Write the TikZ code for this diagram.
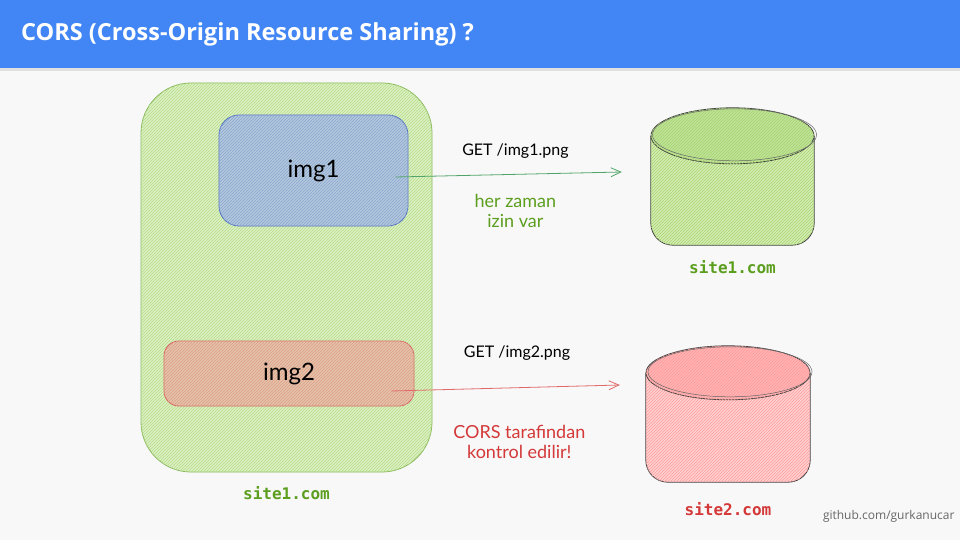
\documentclass[tikz,border=0pt]{standalone}
\usepackage{fontspec}
\setmainfont{Open Sans}
\setmonofont{DejaVu Sans Mono}
\newfontfamily\handfont{Lato}
\usetikzlibrary{positioning,arrows.meta,patterns}

\definecolor{bgcol}{HTML}{F8F8F8}
\definecolor{headcol}{HTML}{4286F5}
\definecolor{appfill}{HTML}{DCF0C4}
\definecolor{appline}{HTML}{B6DC88}
\definecolor{appdraw}{HTML}{86B85A}
\definecolor{img1fill}{HTML}{B4C8DC}
\definecolor{img1line}{HTML}{8AA6D0}
\definecolor{img1draw}{HTML}{5272C4}
\definecolor{img2fill}{HTML}{E4C4A8}
\definecolor{img2line}{HTML}{E09C8C}
\definecolor{img2draw}{HTML}{D86464}
\definecolor{okgreen}{HTML}{5C9E1E}
\definecolor{arrgreen}{HTML}{52A56A}
\definecolor{errred}{HTML}{D43838}
\definecolor{arrred}{HTML}{E06A6A}
\definecolor{db1fill}{HTML}{D4EDB4}
\definecolor{db1top}{HTML}{BFE298}
\definecolor{db1line}{HTML}{A6D46E}
\definecolor{db2fill}{HTML}{FFD2D2}
\definecolor{db2top}{HTML}{FFB4B4}
\definecolor{db2line}{HTML}{FF9A9A}

\begin{document}
\begin{tikzpicture}[x=1pt,y=-1pt,
        hatch/.style={postaction={pattern=north east lines,pattern color=#1}},
        imgbox/.style={draw,line width=0.8pt,inner sep=0pt,
            font=\handfont\fontsize{24}{26}\selectfont},
        req/.style={font=\handfont\fontsize{16}{18}\selectfont},
        note/.style={font=\handfont\fontsize{18}{20}\selectfont,align=center},
        host/.style={font=\ttfamily\bfseries\fontsize{16}{18}\selectfont},
        dbline/.style={draw=black!75,line width=0.8pt},
        arr/.style={line width=0.8pt,-{Straight Barb[length=10pt,width=9pt]}}]
\useasboundingbox (0,0) rectangle (960,540);
\fill[bgcol] (0,0) rectangle (960,540);
\fill[black!12] (0,68) rectangle (960,71);
\fill[headcol] (0,0) rectangle (960,68);
\node[anchor=base west,text=white,inner sep=0pt,
    font=\bfseries\fontsize{23.5}{26}\selectfont] (title) at (21,41)
    {CORS (Cross-Origin Resource Sharing) ?};

% page on site1
\node[draw=appdraw,line width=0.8pt,fill=appfill,hatch=appline,rounded corners=50pt,
    minimum width=291pt,minimum height=389pt] (site) at (286.5,277.5) {};
\node[imgbox,draw=img1draw,fill=img1fill,hatch=img1line,rounded corners=20pt,
    minimum width=189pt,minimum height=111pt] (img1) at (313.5,170.5) {img1};
\node[imgbox,draw=img2draw,fill=img2fill,hatch=img2line,rounded corners=15pt,
    minimum width=250pt,minimum height=65pt] (img2) at (289,373.5) {img2};
\node[host,text=okgreen,below=11pt of site] (sitelbl) {site1.com};

% servers
\node[minimum width=163pt,minimum height=137pt,inner sep=0pt] (db1) at (732.5,176.5) {};
\draw[dbline,fill=db1fill,hatch=db1line,rounded corners=22pt]
    ([yshift=-28pt]db1.north west) -- (db1.south west) -- (db1.south east)
    -- ([yshift=-28pt]db1.north east);
\draw[dbline,fill=db1top,hatch=db1line] ([yshift=-28pt]db1.north)
    ellipse [x radius=81.5pt,y radius=28pt];
\draw[black!60,line width=0.5pt] ([shift={(2pt,-27pt)}]db1.north)
    ellipse [x radius=82pt,y radius=26pt];
\node[host,text=okgreen,below=12pt of db1] (db1lbl) {site1.com};

\node[minimum width=164pt,minimum height=136pt,inner sep=0pt] (db2) at (728,414) {};
\draw[dbline,fill=db2fill,hatch=db2line,rounded corners=22pt]
    ([yshift=-27pt]db2.north west) -- (db2.south west) -- (db2.south east)
    -- ([yshift=-27pt]db2.north east);
\draw[dbline,fill=db2top,hatch=db2line] ([yshift=-27pt]db2.north)
    ellipse [x radius=82pt,y radius=27pt];
\draw[black!60,line width=0.5pt] ([shift={(2pt,-26pt)}]db2.north)
    ellipse [x radius=82pt,y radius=25pt];
\node[host,text=errred,below=17pt of db2] (db2lbl) {site2.com};

% requests
\draw[arr,arrgreen] ([shift={(-13pt,-6.5pt)}]img1.east) -- ([shift={(-29pt,4.5pt)}]db1.west)
    node[req,text=black,pos=0.53,above=12pt] (get1) {GET /img1.png}
    node[note,text=okgreen,pos=0.53,below=16pt] (ok1) {her zaman\\izin var};
\draw[arr,arrred] ([shift={(-23pt,-17.5pt)}]img2.east) -- ([shift={(-26pt,29pt)}]db2.west)
    node[req,text=black,pos=0.55,above=24pt] (get2) {GET /img2.png}
    node[note,text=errred,pos=0.56,below=34pt] (cors2) {CORS tarafindan\\kontrol edilir!};

\node[text=black!60,anchor=east,font=\fontsize{12}{14}\selectfont] (credit) at (958,516)
    {github.com/gurkanucar};
\end{tikzpicture}
\end{document}
